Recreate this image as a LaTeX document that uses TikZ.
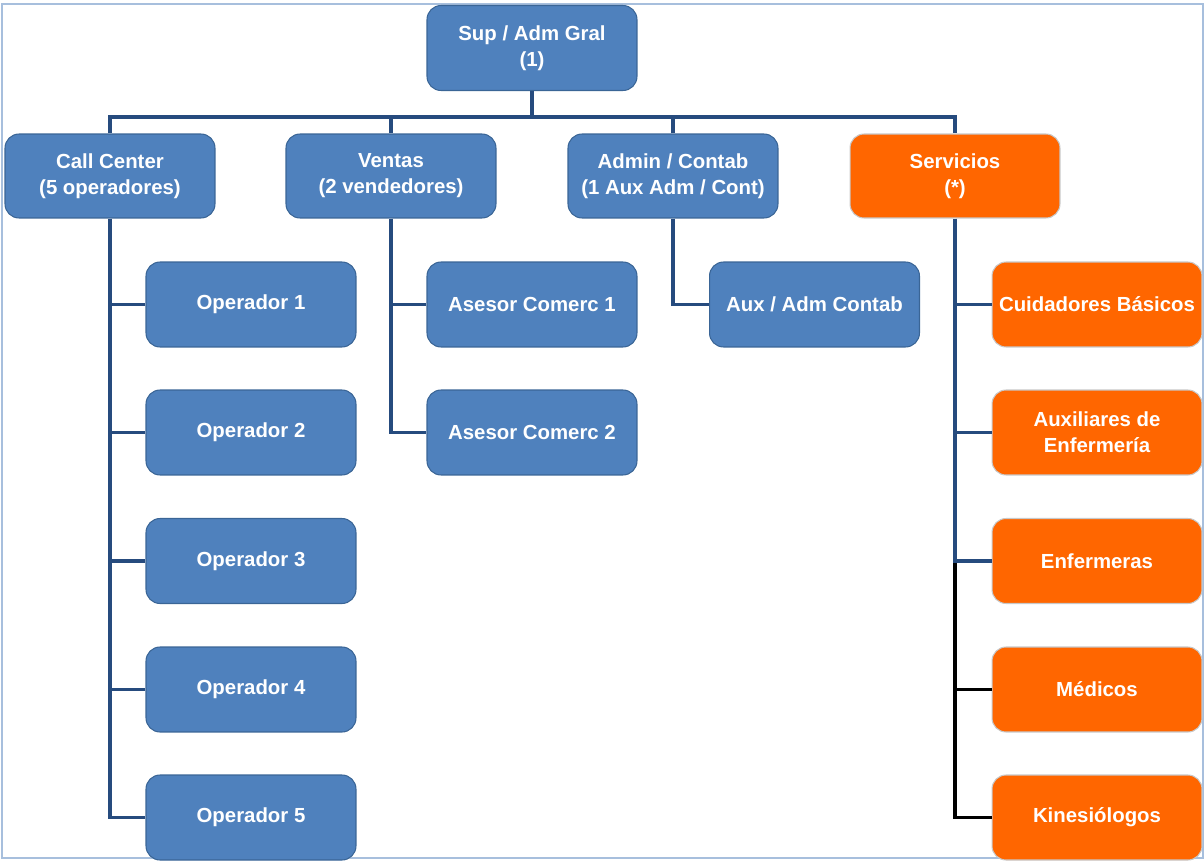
\documentclass[tikz,border=0pt]{standalone}
\usepackage{fontspec}
\setmainfont{Liberation Sans}
\definecolor{boxblue}{HTML}{4F81BD}
\definecolor{boxedge}{HTML}{3A6596}
\definecolor{boxorange}{HTML}{FF6600}
\definecolor{orangeedge}{HTML}{C8C8C8}
\definecolor{linkblue}{HTML}{264B7E}
\definecolor{framecol}{HTML}{A7BFDD}
\begin{document}
\begin{tikzpicture}[x=0.02cm,y=-0.02cm,
  box/.style={rectangle, rounded corners=0.28cm, minimum width=4.2cm,
    minimum height=1.7cm, align=center, text=white, inner sep=2pt,
    font=\fontsize{11.6}{14.8}\selectfont\bfseries, line width=0.6pt},
  bluebox/.style={box, fill=boxblue, draw=boxedge},
  orangebox/.style={box, fill=boxorange, draw=orangeedge},
  link/.style={draw=linkblue, line width=2pt},
  blacklink/.style={draw=black, line width=2pt}]
\useasboundingbox (0,0) rectangle (1204,862);
% outer frame
\draw[framecol, line width=1.1pt] (2,4) rectangle (1203,858);

% top
\node[bluebox] (top) at (532,48) {Sup / Adm Gral\\(1)};

% second level
\node[bluebox, minimum height=1.68cm] (cc)   at (110,176) {Call Center\\(5 operadores)};
\node[bluebox, minimum height=1.68cm] (ven)  at (391,176) {Ventas\\(2 vendedores)};
\node[bluebox, minimum height=1.68cm] (adm)  at (673,176) {Admin / Contab\\(1 Aux Adm / Cont)};
\node[orangebox, minimum height=1.68cm] (serv) at (955,176) {Servicios\\(*)};

% call center
\node[bluebox] (op1) at (251,304.5) {Operador 1};
\node[bluebox] (op2) at (251,432.5) {Operador 2};
\node[bluebox] (op3) at (251,561) {Operador 3};
\node[bluebox] (op4) at (251,689.5) {Operador 4};
\node[bluebox] (op5) at (251,817.5) {Operador 5};

% ventas
\node[bluebox] (as1) at (532,304.5) {Asesor Comerc 1};
\node[bluebox] (as2) at (532,432.5) {Asesor Comerc 2};

% admin
\node[bluebox] (aux) at (814.5,304.5) {Aux / Adm Contab};

% servicios
\node[orangebox] (cuid) at (1097,304.5) {Cuidadores B\'asicos};
\node[orangebox] (auxe) at (1097,432.5) {Auxiliares de\\Enfermer\'ia};
\node[orangebox] (enf)  at (1097,561) {Enfermeras};
\node[orangebox] (med)  at (1097,689.5) {M\'edicos};
\node[orangebox] (kin)  at (1097,817.5) {Kinesi\'ologos};

% bus from the top box
\coordinate (bus) at (532,117);
\draw[link] (top.south) -- (bus);
\draw[link] (cc.north) |- (bus) -| (serv.north);
\draw[link] (ven.north) -- (ven.north |- bus);
\draw[link] (adm.north) -- (adm.north |- bus);

% call center branch
\draw[link] (cc.south) |- (op5.west);
\foreach \n in {op1,op2,op3,op4}
  \draw[link] (\n.west) -- (\n.west -| cc.south);

% ventas branch
\draw[link] (ven.south) |- (as2.west);
\draw[link] (as1.west) -- (as1.west -| ven.south);

% admin branch
\draw[link] (adm.south) |- (aux.west);

% servicios branch
\draw[link] (serv.south) |- (enf.west);
\draw[link] (cuid.west) -- (cuid.west -| serv.south);
\draw[link] (auxe.west) -- (auxe.west -| serv.south);
\draw[blacklink] ([yshift=-1pt]enf.west -| serv.south) |- (kin.west);
\draw[blacklink] (med.west) -- (med.west -| serv.south);
\end{tikzpicture}
\end{document}
